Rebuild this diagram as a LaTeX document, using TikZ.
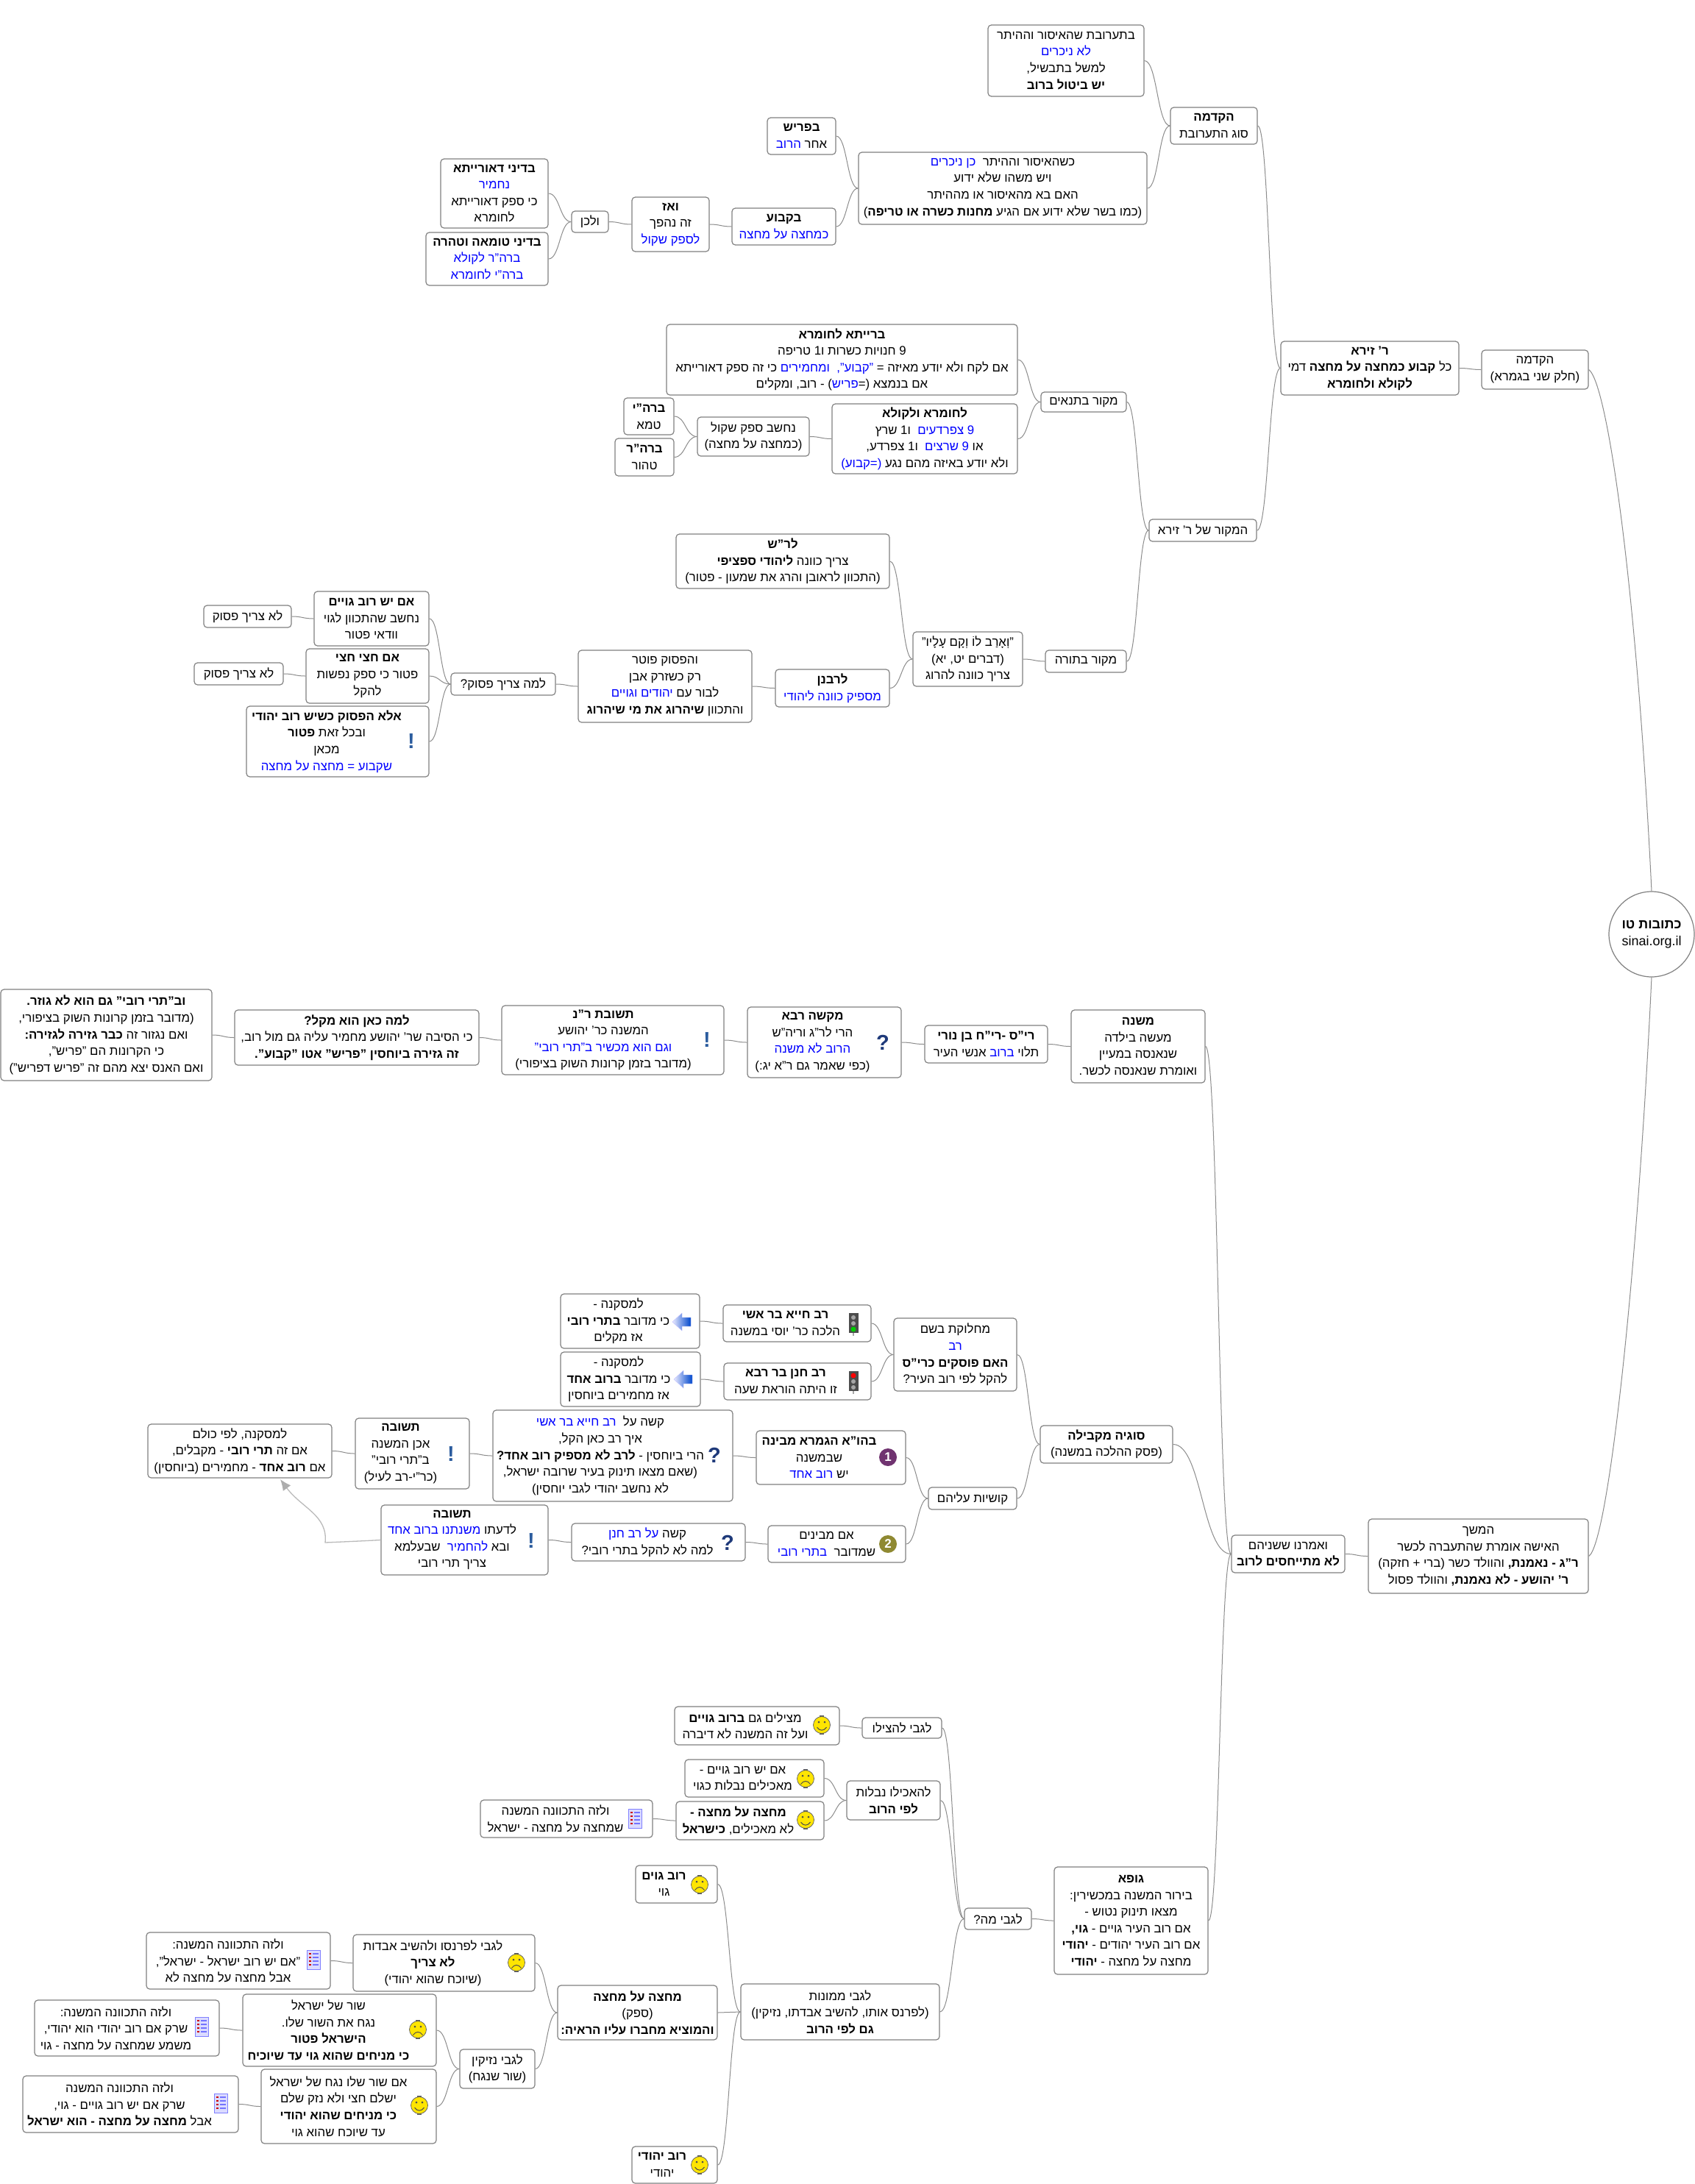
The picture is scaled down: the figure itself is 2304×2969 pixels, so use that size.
\documentclass[tikz,border=0pt]{standalone}
\usepackage{fontspec}
\setmainfont[Script=Hebrew]{Liberation Sans}
\usetikzlibrary{calc,arrows.meta}
\TeXXeTstate=1
\newcommand\rr[1]{\beginR #1\endR}
\newcommand\bb[1]{{\bfseries\beginR #1\endR}}
\newcommand\cc[1]{{\color{blue}\beginR #1\endR}}
\newcommand\ls[1]{\vbox{\let\\\cr\halign{\hfil##\hfil\cr#1\crcr}}}
\definecolor{edgec}{HTML}{808080}
\definecolor{connc}{HTML}{8C8C8C}
\definecolor{qcol}{HTML}{1F3A7A}
\definecolor{ecol}{HTML}{2B5C9E}
\tikzset{
 mbox/.style={draw=edgec,line width=1.2pt,rounded corners=4.5pt,fill=white,inner sep=0pt,
   font=\fontsize{16.8}{22.6}\selectfont},
 conn/.style={draw=connc,line width=1pt},
 linkarrow/.style={draw=black!27,line width=1.3pt,-{Latex[length=15pt,width=13pt,color=black!32]}},
 qmark/.style={inner sep=0pt,text=qcol,font=\fontsize{29}{29}\bfseries\selectfont},
 emark/.style={inner sep=0pt,text=ecol,font=\fontsize{29}{29}\bfseries\selectfont},
 numdisc/.style={circle,inner sep=0pt,minimum size=24pt,text=white,font=\fontsize{17}{17}\bfseries\selectfont},
}
\newcommand\mb[7][0]{%
 \pgfmathsetmacro\mbX{(#3+#5)/2}%
 \pgfmathsetmacro\mbY{(#4+#6)/2}%
 \pgfmathsetmacro\mbW{#5-#3}%
 \pgfmathsetmacro\mbH{#6-#4}%
 \pgfmathsetmacro\mbK{2*#1}%
 \node[mbox,minimum width=\mbW pt,minimum height=\mbH pt] (#2) at (\mbX,\mbY) {\hbox to \mbW pt{\hss\kern\mbK pt\ls{#7}\hss}};}
\newcommand\con[2]{\draw[conn] let \p1=(#1.west),\p2=(#2.east),\n1={(\x1-\x2)*0.5} in (\p1) .. controls +(-\n1,0) and +(\n1,0) .. (\p2);}
\newcommand\smileicon[2]{\begin{scope}[shift={(#1,#2)}]
 \fill[black!65] (-3,-13) rectangle (3,13);
 \draw[fill=yellow!88!orange,draw=black!60,line width=.8pt] (0,0) circle[radius=11.5pt];
 \fill[black!70] (-4,-4) circle[radius=1.5pt] (4,-4) circle[radius=1.5pt];
 \draw[black!70,line width=1pt] (-6.5,3) .. controls (-3,8.5) and (3,8.5) .. (6.5,3);
 \end{scope}}
\newcommand\frownicon[2]{\begin{scope}[shift={(#1,#2)}]
 \fill[black!65] (-3,-13) rectangle (3,13);
 \draw[fill=yellow!88!orange,draw=black!60,line width=.8pt] (0,0) circle[radius=11.5pt];
 \fill[black!70] (-4,-4) circle[radius=1.5pt] (4,-4) circle[radius=1.5pt];
 \draw[black!70,line width=1pt] (-6.5,7.5) .. controls (-3,2) and (3,2) .. (6.5,7.5);
 \end{scope}}
\newcommand\listicon[2]{\begin{scope}[shift={(#1,#2)}]
 \draw[fill=blue!14,draw=blue!50!white,line width=1pt] (-9,-13) rectangle (9,13);
 \foreach \yy in {-8,-3,2,7}{\fill[red!80!black] (-6,\yy-1) rectangle (-3,\yy+1);\fill[blue!55] (-1,\yy-1) rectangle (6.5,\yy+1);}
 \end{scope}}
\newcommand\arrowicon[2]{\begin{scope}[shift={(#1,#2)}]
 \shade[left color=blue!8,right color=blue!65!cyan!80!black,draw=blue!25] (-13,0) -- (0,-12) -- (0,-6) -- (12,-6) -- (12,6) -- (0,6) -- (0,12) -- cycle;
 \end{scope}}
\newcommand\lighticon[3]{\begin{scope}[shift={(#1,#2)}]
 \fill[black!35] (-1,13) rectangle (1,17);
 \fill[black!70] (-6.5,-14) rectangle (6.5,13);
 \fill[black!35] (0,-8) circle[radius=3pt] (0,0) circle[radius=3pt];
 \fill[black!35] (0,8) circle[radius=3pt];
 #3
 \end{scope}}
\begin{document}
\begin{tikzpicture}[x=1pt,y=-1pt]
\useasboundingbox (0,0) rectangle (2304,2969);
\fill[white] (0,0) rectangle (2304,2969);
% ---- top half
\node[draw=edgec,line width=1.2pt,circle,fill=white,minimum size=116pt,inner sep=0pt,font=\fontsize{18}{23}\selectfont] (root) at (2245,1270) {\ls{\bb{כתובות טו}\\sinai.org.il}};
\mb{hakdama}{2014}{476}{2159}{529}{\rr{הקדמה}\\\rr{(חלק שני בגמרא)}}
\mb{rzera}{1741}{464}{1983}{537}{\bb{ר' זירא}\\\rr{כל {\bfseries קבוע כמחצה על מחצה}  דמי}\\\bb{לקולא ולחומרא}}
\mb{hakdamab}{1591}{146}{1709}{196}{\bb{הקדמה}\\\rr{סוג התערובת}}
\mb{tone}{1343}{34}{1555}{131}{\rr{בתערובת שהאיסור וההיתר}\\\cc{לא ניכרים}\\\rr{למשל בתבשיל,}\\\bb{יש ביטול ברוב}}
\mb{kesheh}{1167}{207}{1559}{305}{\cc{כן ניכרים}\ \ \rr{כשהאיסור וההיתר}\\\rr{ויש משהו שלא ידוע}\\\rr{האם בא מהאיסור או מההיתר}\\\rr{(כמו בשר שלא ידוע אם הגיע {\bfseries מחנות כשרה או טריפה})}}
\mb{bparish}{1043}{160}{1136}{210}{\bb{בפריש}\\\cc{הרוב}\ \rr{אחר}}
\mb{bkavua}{995}{283}{1136}{333}{\bb{בקבוע}\\\cc{כמחצה על מחצה}}
\mb{vaaz}{859}{268}{964}{342}{\bb{ואז}\\\rr{זה נהפך}\\\cc{לספק שקול}}
\mb{velachen}{777}{287}{827}{316}{\rr{ולכן}}
\mb{deoraita}{599}{216}{745}{310}{\bb{בדיני דאורייתא}\\\cc{נחמיר}\\\rr{כי ספק דאורייתא}\\\rr{לחומרא}}
\mb{tuma}{579}{316}{745}{388}{\bb{בדיני טומאה וטהרה}\\\cc{ברה"ר לקולא}\\\cc{ברה"י לחומרא}}
\mb{mekor}{1562}{706}{1708}{736}{\rr{המקור של ר' זירא}}
\mb{mtanaim}{1415}{533}{1531}{560}{\rr{מקור בתנאים}}
\mb{breita}{906}{441}{1383}{537}{\bb{ברייתא לחומרא}\\\rr{9 חנויות כשרות ו1 טריפה}\\\rr{כי זה ספק דאורייתא}\ \cc{ומחמירים}\ \ \cc{"קבוע",}\ \rr{אם לקח ולא יודע מאיזה =}\\\rr{- רוב, ומקלים}\ \rr{)}\cc{פריש}\rr{(=}\ \rr{אם בנמצא}}
\mb{lechumra}{1131}{549}{1383}{644}{\bb{לחומרא ולקולא}\\\rr{ו1 שרץ}\ \ \cc{9 צפרדעים}\\\rr{ו1 צפרדע,}\ \ \cc{9 שרצים}\ \rr{או}\\\cc{(=קבוע)}\ \rr{ולא יודע באיזה מהם נגע}}
\mb{nechshav}{948}{567}{1100}{620}{\rr{נחשב ספק שקול}\\\rr{(כמחצה על מחצה)}}
\mb{brhy}{848}{541}{916}{591}{\bb{ברה"י}\\\rr{טמא}}
\mb{brhr}{836}{596}{916}{647}{\bb{ברה"ר}\\\rr{טהור}}
\mb{mtorah}{1421}{884}{1531}{914}{\rr{מקור בתורה}}
\mb{verse}{1241}{859}{1390}{933}{\rr{"וְאָרַב לוֹ וְקָם עָלָיו"}\\\rr{(דברים יט, יא)}\\\rr{צריך כוונה להרוג}}
\mb{larash}{919}{726}{1209}{800}{\bb{לר"ש}\\\rr{צריך כוונה {\bfseries ליהודי ספציפי}}\\\rr{(התכוון לראובן והרג את שמעון - פטור)}}
\mb{lerabanan}{1054}{910}{1209}{961}{\bb{לרבנן}\\\cc{מספיק כוונה ליהודי}}
\mb{hapasuk}{786}{884}{1022}{982}{\rr{והפסוק פוטר}\\\rr{רק כשזרק אבן}\\\cc{יהודים וגויים}\ \rr{לבור עם}\\\rr{והתכוון {\bfseries שיהרוג את מי שיהרוג}}}
\mb{lama}{613}{915}{755}{945}{\rr{למה צריך פסוק?}}
\mb{yesh}{427}{804}{583}{878}{\bb{אם יש רוב גויים}\\\rr{נחשב שהתכוון לגוי}\\\rr{וודאי פטור}}
\mb{loa}{277}{823}{396}{853}{\rr{לא צריך פסוק}}
\mb{chatzi}{416}{882}{583}{956}{\bb{אם חצי חצי}\\\rr{פטור כי ספק נפשות}\\\rr{להקל}}
\mb{lob}{264}{901}{385}{931}{\rr{לא צריך פסוק}}
\mb[-15]{ela}{335}{960}{583}{1056}{\bb{אלא הפסוק כשיש רוב יהודי}\\\rr{ובכל זאת {\bfseries פטור}}\\\rr{מכאן}\\\cc{שקבוע = מחצה על מחצה}}
% ---- mishna row
\mb{hemshech}{1860}{2065}{2159}{2166}{\rr{המשך}\\\rr{האישה אומרת שהתעברה לכשר}\\\rr{{\bfseries ר"ג - נאמנת,} והוולד כשר (ברי + חזקה)}\\\rr{{\bfseries ר' יהושע - לא נאמנת,} והוולד פסול}}
\mb{vamarnu}{1674}{2087}{1828}{2138}{\rr{ואמרנו ששניהם}\\\bb{לא מתייחסים לרוב}}
\mb{mishna}{1456}{1373}{1638}{1472}{\bb{משנה}\\\rr{מעשה בילדה}\\\rr{שנאנסה במעיין}\\\rr{ואומרת שנאנסה לכשר.}}
\mb{ris}{1257}{1394}{1424}{1445}{\bb{רי"ס -רי"ח בן נורי}\\\rr{אנשי העיר}\ \cc{ברוב}\ \rr{תלוי}}
\mb[-16]{makshe}{1016}{1369}{1225}{1465}{\bb{מקשה רבא}\\\rr{הרי לר"ג וריה"ש}\\\cc{הרוב לא משנה}\\\rr{(כפי שאמר גם ר"א יג:)}}
\mb[-13]{tshuvat}{682}{1367}{984}{1461}{\bb{תשובת ר"נ}\\\rr{המשנה כר' יהושע}\\\cc{וגם הוא מכשיר ב"תרי רובי"}\\\rr{(מדובר בזמן קרונות השוק  בציפורי)}}
\mb{lamakan}{319}{1373}{651}{1448}{\bb{למה כאן הוא מקל?}\\\rr{כי הסיבה שר' יהושע מחמיר עליה גם מול רוב,}\\\bb{זה גזירה ביוחסין "פריש" אטו "קבוע".}}
\mb{vbtri}{1}{1345}{288}{1469}{\bb{וב"תרי רובי" גם הוא לא גוזר.}\\\rr{(מדובר בזמן קרונות השוק בציפורי,}\\\rr{ואם נגזור זה {\bfseries כבר גזירה לגזירה:}}\\\rr{כי הקרונות הם "פריש",}\\\rr{ואם האנס יצא מהם זה "פריש דפריש")}}
% ---- sugya
\mb{sugya}{1414}{1938}{1594}{1989}{\bb{סוגיה מקבילה}\\\rr{(פסק ההלכה  במשנה)}}
\mb{machloket}{1215}{1792}{1382}{1891}{\rr{מחלוקת בשם}\\\cc{רב}\\\bb{האם פוסקים כרי"ס}\\\rr{להקל לפי רוב העיר?}}
\mb[-16]{ravchiya}{983}{1774}{1184}{1824}{\bb{רב חייא בר אשי}\\\rr{הלכה כר' יוסי במשנה}}
\mb[-16]{ravchanan}{984}{1853}{1184}{1903}{\bb{רב חנן בר רבא}\\\rr{זו היתה הוראת שעה}}
\mb[-16]{lemaska}{762}{1759}{951}{1833}{\rr{למסקנה -}\\\rr{כי מדובר {\bfseries בתרי רובי}}\\\rr{אז מקלים}}
\mb[-16]{lemaskb}{762}{1838}{952}{1912}{\rr{למסקנה -}\\\rr{כי מדובר {\bfseries ברוב אחד}}\\\rr{אז מחמירים ביוחסין}}
\mb{kushyot}{1262}{2022}{1382}{2052}{\rr{קושיות עליהם}}
\mb[-16]{bahua}{1028}{1945}{1231}{2018}{\bb{בהו"א הגמרא מבינה}\\\rr{שבמשנה}\\\cc{רוב אחד}\ \rr{יש}}
\mb[-17]{kashe}{670}{1917}{996}{2041}{\cc{רב חייא בר אשי}\ \ \rr{קשה על}\\\rr{איך רב כאן הקל,}\\\rr{הרי ביוחסין - {\bfseries לרב לא מספיק רוב אחד?}}\\\rr{(שאם מצאו תינוק בעיר שרובה ישראל,}\\\rr{לא נחשב יהודי לגבי יוחסין)}}
\mb[-16]{tshuvaa}{483}{1928}{638}{2024}{\bb{תשובה}\\\rr{אכן המשנה}\\\rr{ב"תרי רובי"}\\\rr{(כר"י-רב לעיל)}}
\mb{lemaskc}{201}{1936}{451}{2009}{\rr{למסקנה, לפי כולם}\\\rr{אם זה {\bfseries תרי רובי} - מקבלים,}\\\rr{אם {\bfseries רוב אחד} - מחמירים (ביוחסין)}}
\mb[-14]{immevinim}{1044}{2074}{1231}{2124}{\rr{אם מבינים}\\\cc{בתרי רובי}\ \ \rr{שמדובר}}
\mb[-15]{kasheb}{777}{2071}{1013}{2122}{\cc{על רב חנן}\ \rr{קשה}\\\rr{למה לא להקל בתרי רובי?}}
\mb[-17]{tshuvab}{518}{2046}{745}{2141}{\bb{תשובה}\\\cc{משנתנו ברוב אחד}\ \rr{לדעתו}\\\rr{שבעלמא}\ \ \cc{להחמיר}\ \rr{ובא}\\\rr{צריך תרי רובי}}
% ---- gufa
\mb{gufa}{1433}{2538}{1642}{2684}{\bb{גופא}\\\rr{בירור המשנה במכשירין:}\\\rr{מצאו תינוק נטוש -}\\\rr{אם רוב העיר גויים - {\bfseries גוי,}}\\\rr{אם רוב העיר יהודים - {\bfseries יהודי}}\\\rr{מחצה על מחצה - {\bfseries יהודי}}}
\mb{legabeima}{1311}{2594}{1402}{2623}{\rr{לגבי מה?}}
\mb{lehatzilo}{1172}{2335}{1280}{2363}{\rr{לגבי להצילו}}
\mb[-16]{matzilim}{917}{2320}{1141}{2372}{\rr{מצילים גם {\bfseries ברוב גויים}}\\\rr{ועל זה המשנה לא דיברה}}
\mb{leachilo}{1151}{2421}{1278}{2474}{\rr{להאכילו נבלות}\\\bb{לפי הרוב}}
\mb[-16]{imyesh}{931}{2392}{1120}{2443}{\rr{אם יש רוב גויים -}\\\rr{מאכילים נבלות כגוי}}
\mb[-16]{machatza}{919}{2449}{1120}{2501}{\bb{מחצה על מחצה -}\\\rr{לא מאכילים, {\bfseries כישראל}}}
\mb[-15]{velazeh}{653}{2447}{887}{2498}{\rr{ולזה התכוונה המשנה}\\\rr{שמחצה על מחצה - ישראל}}
\mb{mamonot}{1007}{2697}{1277}{2773}{\rr{לגבי ממונות}\\\rr{(לפרנס אותו, להשיב אבדתו, נזיקין)}\\\bb{גם לפי הרוב}}
\mb[-17]{rovgoim}{864}{2536}{975}{2587}{\bb{רוב גוים}\\\rr{גוי}}
\mb[-17]{rovyehudi}{859}{2918}{975}{2968}{\bb{רוב יהודי}\\\rr{יהודי}}
\mb{machatzab}{758}{2699}{975}{2773}{\bb{מחצה על מחצה}\\\rr{(ספק)}\\\bb{והמוציא מחברו עליו הראיה:}}
\mb[-15]{lefarnes}{480}{2630}{727}{2707}{\rr{לגבי לפרנסו ולהשיב אבדות}\\\bb{לא צריך}\\\rr{(שיוכח שהוא יהודי)}}
\mb[-14]{velazehb}{199}{2627}{449}{2704}{\rr{ולזה התכוונה המשנה:}\\\rr{"אם יש רוב ישראל - ישראל",}\\\rr{אבל מחצה על מחצה לא}}
\mb{nezikin}{625}{2786}{727}{2839}{\rr{לגבי נזיקין}\\\rr{(שור שנגח)}}
\mb[-15]{shor}{330}{2711}{593}{2809}{\rr{שור של ישראל}\\\rr{נגח את השור שלו.}\\\bb{הישראל פטור}\\\bb{כי מניחים שהוא גוי עד שיוכיח}}
\mb[-15]{velazehc}{47}{2719}{298}{2795}{\rr{ולזה התכוונה המשנה:}\\\rr{שרק אם רוב יהודי הוא יהודי,}\\\rr{משמע שמחצה על מחצה - גוי}}
\mb[-14]{imshor}{355}{2813}{593}{2914}{\rr{אם שור שלו נגח של ישראל}\\\rr{ישלם חצי ולא נזק שלם}\\\bb{כי מניחים  שהוא יהודי}\\\rr{עד שיוכח שהוא גוי}}
\mb[-15]{velazehd}{31}{2822}{324}{2899}{\rr{ולזה התכוונה המשנה}\\\rr{שרק אם יש רוב גויים - גוי,}\\\rr{אבל {\bfseries מחצה על מחצה - הוא ישראל}}}
% ---- icons
\node[emark] (ia) at (559,1008) {!};
\node[emark] (ib) at (961,1414) {!};
\node[qmark] (ic) at (1200,1417) {?};
\node[qmark] (id) at (971,1978) {?};
\node[emark] (ie) at (613,1976) {!};
\node[qmark] (if) at (989,2097) {?};
\node[emark] (ig) at (722,2094) {!};
\node[numdisc,fill=violet!60!black!80] (ih) at (1207,1981) {1};
\node[numdisc,fill=olive!65!gray] (ii) at (1207,2099) {2};
\lighticon{1160}{1799}{\fill[green!80!black] (0,8) circle[radius=3.5pt];}
\lighticon{1160}{1878}{\fill[red] (0,-8) circle[radius=3.5pt];}
\arrowicon{927}{1797}
\arrowicon{929}{1875}
\smileicon{1117}{2345}
\frownicon{1095}{2418}
\smileicon{1095}{2474}
\listicon{863}{2472}
\frownicon{951}{2562}
\frownicon{702}{2668}
\frownicon{568}{2759}
\smileicon{570}{2862}
\smileicon{951}{2943}
\listicon{426}{2664}
\listicon{274}{2755}
\listicon{300}{2859}
% ---- connectors
\draw[conn] (root.north) .. controls (2225,800) and (2185,520) .. (hakdama.east);
\draw[conn] (root.south) .. controls (2225,1750) and (2185,2100) .. (hemshech.east);
\con{hakdama}{rzera}
\con{rzera}{hakdamab}\con{rzera}{mekor}
\con{hakdamab}{tone}\con{hakdamab}{kesheh}
\con{kesheh}{bparish}\con{kesheh}{bkavua}
\con{bkavua}{vaaz}\con{vaaz}{velachen}\con{velachen}{deoraita}\con{velachen}{tuma}
\con{mekor}{mtanaim}\con{mekor}{mtorah}
\con{mtanaim}{breita}\con{mtanaim}{lechumra}
\con{lechumra}{nechshav}\con{nechshav}{brhy}\con{nechshav}{brhr}
\con{mtorah}{verse}\con{verse}{larash}\con{verse}{lerabanan}
\con{lerabanan}{hapasuk}\con{hapasuk}{lama}
\con{lama}{yesh}\con{lama}{chatzi}\con{lama}{ela}
\con{yesh}{loa}\con{chatzi}{lob}
\con{hemshech}{vamarnu}
\con{vamarnu}{mishna}\con{vamarnu}{sugya}\con{vamarnu}{gufa}
\con{mishna}{ris}\con{ris}{makshe}\con{makshe}{tshuvat}\con{tshuvat}{lamakan}\con{lamakan}{vbtri}
\con{sugya}{machloket}\con{sugya}{kushyot}
\con{machloket}{ravchiya}\con{machloket}{ravchanan}
\con{ravchiya}{lemaska}\con{ravchanan}{lemaskb}
\con{kushyot}{bahua}\con{kushyot}{immevinim}
\con{bahua}{kashe}\con{kashe}{tshuvaa}\con{tshuvaa}{lemaskc}
\con{immevinim}{kasheb}\con{kasheb}{tshuvab}
\coordinate (arrtip) at (381,2011);
\coordinate (arrbend) at (442,2097);
\draw[linkarrow] (tshuvab.west) .. controls (490,2095) and (465,2096) .. (arrbend) .. controls (446,2060) and (410,2050) .. (arrtip);
\con{gufa}{legabeima}
\con{legabeima}{lehatzilo}\con{legabeima}{leachilo}\con{legabeima}{mamonot}
\con{lehatzilo}{matzilim}
\con{leachilo}{imyesh}\con{leachilo}{machatza}\con{machatza}{velazeh}
\con{mamonot}{rovgoim}\con{mamonot}{machatzab}\con{mamonot}{rovyehudi}
\con{machatzab}{lefarnes}\con{machatzab}{nezikin}
\con{lefarnes}{velazehb}
\con{nezikin}{shor}\con{nezikin}{imshor}
\con{shor}{velazehc}\con{imshor}{velazehd}
\end{tikzpicture}
\end{document}
